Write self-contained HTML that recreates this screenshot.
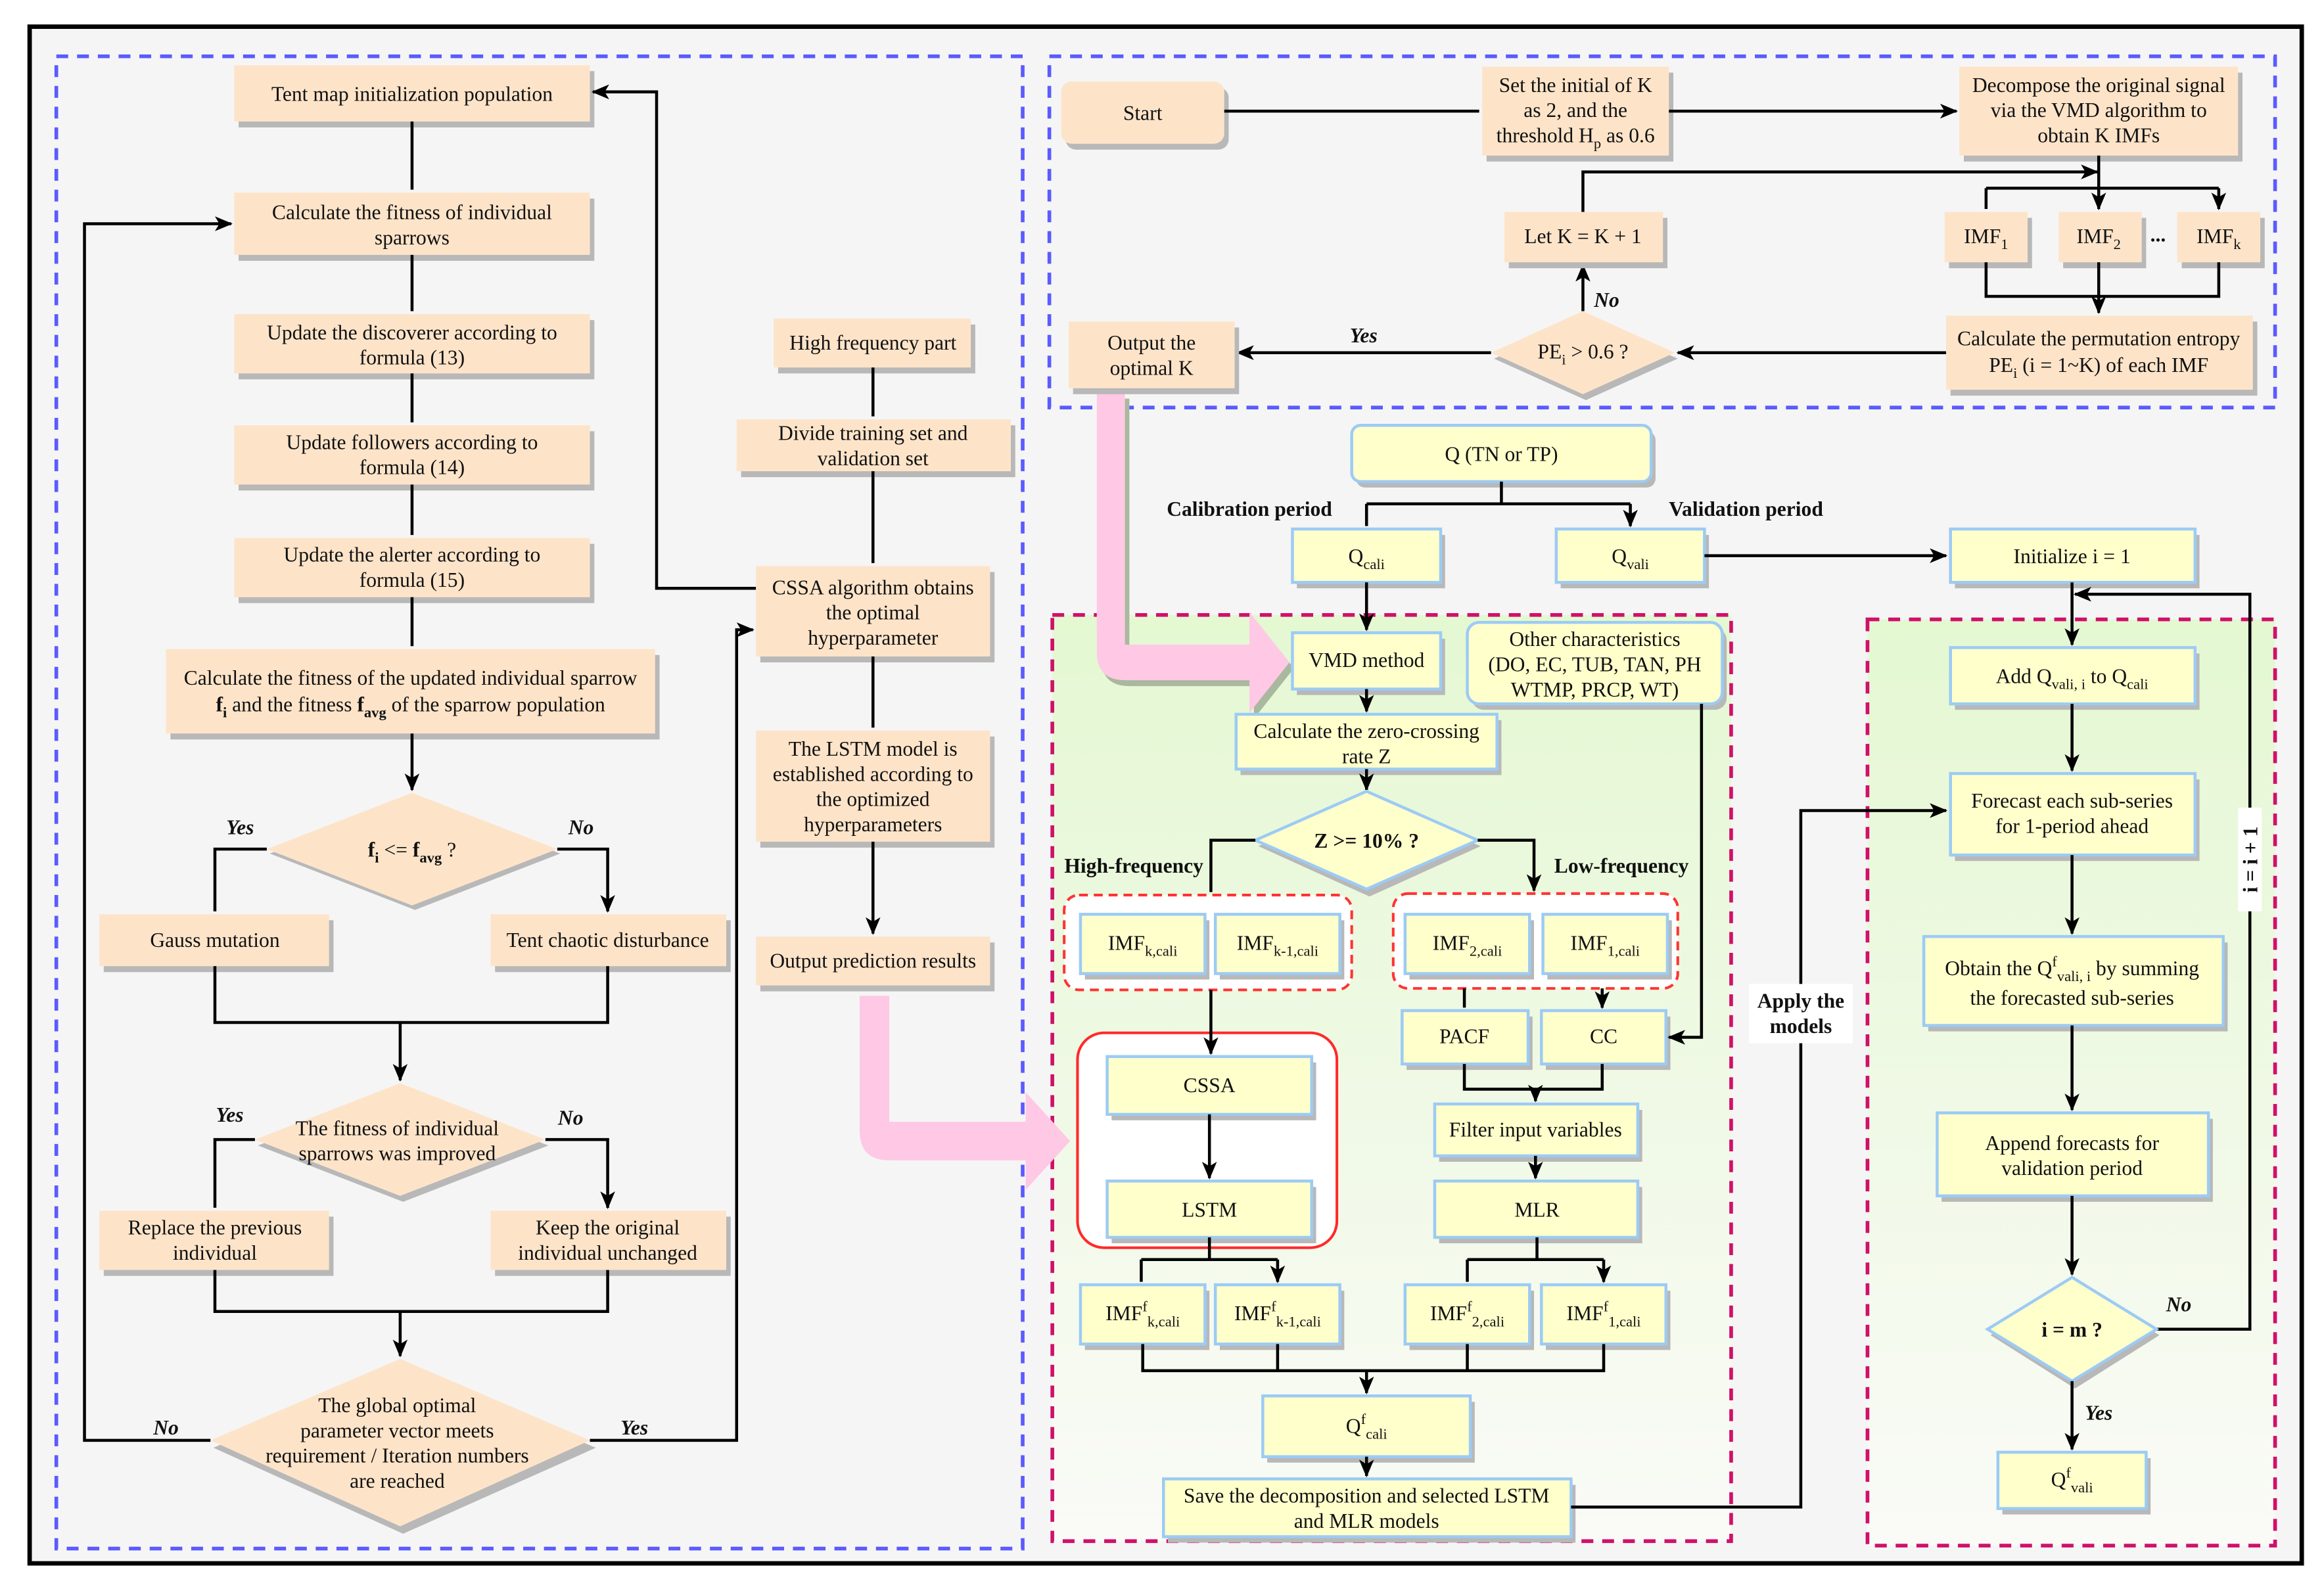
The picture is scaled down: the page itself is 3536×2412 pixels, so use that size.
<!DOCTYPE html>
<html><head><meta charset="utf-8"><style>
html,body{margin:0;padding:0;background:#fff;}
svg{display:block;}
text{font-family:"Liberation Serif",serif;font-size:14px;fill:#111;text-anchor:middle;}
.b{fill:#fde4c9;}
.y{fill:#ffffcc;stroke:#9ccbf4;stroke-width:2;}
.s{fill:#b8b8b8;}
.l{fill:none;stroke:#000;stroke-width:2;}
.bd{font-weight:bold;}
.it{font-style:italic;font-weight:bold;}
</style></head><body>
<svg width="3536" height="2412" viewBox="0 0 1568 1069.6" preserveAspectRatio="none" xmlns="http://www.w3.org/2000/svg">
<defs>
<marker id="a" markerUnits="userSpaceOnUse" markerWidth="12" markerHeight="10" refX="11" refY="5" orient="auto">
<path d="M0,0 L12,5 L0,10 L3,5 z" fill="#000"/></marker>
<linearGradient id="g" x1="0" y1="0" x2="0" y2="1"><stop offset="0" stop-color="#e4f8d2"/><stop offset="1" stop-color="#fafaf7"/></linearGradient>
</defs>
<rect x="0" y="0" width="1568" height="1070" fill="#fff"/>
<rect x="20" y="18" width="1533" height="1037" fill="#f5f5f5" stroke="#000" stroke-width="3"/>
<!-- region frames -->
<rect x="38" y="38" width="652" height="1007" fill="none" stroke="#5b5bff" stroke-width="2.5" stroke-dasharray="8,6"/>
<rect x="708" y="38" width="827" height="237" fill="none" stroke="#5b5bff" stroke-width="2.5" stroke-dasharray="8,6"/>
<rect x="710" y="415" width="458" height="625" fill="url(#g)" stroke="#d0106a" stroke-width="2.5" stroke-dasharray="8,6"/>
<rect x="1260" y="418" width="275" height="625" fill="url(#g)" stroke="#d0106a" stroke-width="2.5" stroke-dasharray="8,6"/>

<!-- pink arrows -->
<path d="M740,265 h19 v170 h84 v-22 l27,34 l-27,34 v-22 h-84 q-19,0 -19,-19 z" fill="#a9b89f" transform="translate(3,4)"/>
<path d="M740,265 h19 v170 h84 v-22 l27,34 l-27,34 v-22 h-84 q-19,0 -19,-19 z" fill="#ffc8e4"/>
<path d="M580,672 h20 v85 h92 v-20 l30,33 l-30,33 v-20 h-92 q-20,0 -20,-20 z" fill="#ffc8e4"/>

<!-- LEFT COLUMN -->
<g>
<rect class="s" x="161" y="48" width="240" height="38"/><rect class="b" x="158" y="44" width="240" height="38"/>
<text x="278" y="68">Tent map initialization population</text>
<rect class="s" x="161" y="134" width="240" height="42"/><rect class="b" x="158" y="130" width="240" height="42"/>
<text x="278" y="148">Calculate the fitness of individual</text><text x="278" y="165">sparrows</text>
<rect class="s" x="161" y="216" width="240" height="40"/><rect class="b" x="158" y="212" width="240" height="40"/>
<text x="278" y="229">Update the discoverer according to</text><text x="278" y="246">formula (13)</text>
<rect class="s" x="161" y="291" width="240" height="40"/><rect class="b" x="158" y="287" width="240" height="40"/>
<text x="278" y="303">Update followers according to</text><text x="278" y="320">formula (14)</text>
<rect class="s" x="161" y="367" width="240" height="40"/><rect class="b" x="158" y="363" width="240" height="40"/>
<text x="278" y="379">Update the alerter according to</text><text x="278" y="396">formula (15)</text>
<rect class="s" x="115" y="442" width="330" height="57"/><rect class="b" x="112" y="438" width="330" height="57"/>
<text x="277" y="462">Calculate the fitness of the updated individual sparrow</text>
<text x="277" y="480"><tspan class="bd">f</tspan><tspan class="bd" font-size="10" dy="4">i</tspan><tspan dy="-4"> and the fitness </tspan><tspan class="bd">f</tspan><tspan class="bd" font-size="10" dy="4">avg</tspan><tspan dy="-4"> of the sparrow population</tspan></text>
<path d="M278,82 V128 M278,172 V210 M278,252 V285 M278,327 V361 M278,403 V436 M278,495 V533" class="l" marker-end="url(#a)"/>
<polygon points="280,540 378,576 280,614 182,576" class="s"/>
<polygon points="278,535 376,573 278,611 180,573" class="b"/>
<text x="278" y="578"><tspan class="bd">f</tspan><tspan class="bd" font-size="10" dy="4">i</tspan><tspan dy="-4"> &lt;= </tspan><tspan class="bd">f</tspan><tspan class="bd" font-size="10" dy="4">avg</tspan><tspan dy="-4"> ?</tspan></text>
<text x="162" y="563" class="it">Yes</text><text x="392" y="563" class="it">No</text>
<path d="M180,573 H145 V615 M376,573 H410 V615" class="l" marker-end="url(#a)"/>
<rect class="s" x="70" y="621" width="155" height="35"/><rect class="b" x="67" y="617" width="155" height="35"/>
<text x="145" y="639">Gauss mutation</text>
<rect class="s" x="334" y="621" width="159" height="35"/><rect class="b" x="331" y="617" width="159" height="35"/>
<text x="410" y="639">Tent chaotic disturbance</text>
<path d="M145,652 V690 H410 V652" class="l"/>
<path d="M270,690 V729" class="l" marker-end="url(#a)"/>
<polygon points="272,736 370,773 272,811 174,773" class="s"/>
<polygon points="270,731 368,769 270,807 172,769" class="b"/>
<text x="268" y="766">The fitness of individual</text><text x="268" y="783">sparrows was improved</text>
<text x="155" y="757" class="it">Yes</text><text x="385" y="759" class="it">No</text>
<path d="M172,769 H145 V815 M368,769 H410 V815" class="l" marker-end="url(#a)"/>
<rect class="s" x="70" y="821" width="155" height="40"/><rect class="b" x="67" y="817" width="155" height="40"/>
<text x="145" y="833">Replace the previous</text><text x="145" y="850">individual</text>
<rect class="s" x="334" y="821" width="159" height="40"/><rect class="b" x="331" y="817" width="159" height="40"/>
<text x="410" y="833">Keep the original</text><text x="410" y="850">individual unchanged</text>
<path d="M145,857 V885 H410 V857" class="l"/>
<path d="M270,885 V915" class="l" marker-end="url(#a)"/>
<polygon points="272,922 402,977 272,1035 144,977" class="s"/>
<polygon points="270,917 398,972 270,1030 142,972" class="b"/>
<text x="268" y="953">The global optimal</text><text x="268" y="970">parameter vector meets</text>
<text x="268" y="987">requirement / Iteration numbers</text><text x="268" y="1004">are reached</text>
<text x="112" y="968" class="it">No</text><text x="428" y="968" class="it">Yes</text>
<path d="M142,972 H57 V151 H156" class="l" marker-end="url(#a)"/>
<path d="M398,972 H497 V425 H508" class="l" marker-end="url(#a)"/>
</g>

<!-- MIDDLE COLUMN -->
<g>
<rect class="s" x="525" y="219" width="133" height="33"/><rect class="b" x="522" y="215" width="133" height="33"/>
<text x="589" y="236">High frequency part</text>
<rect class="s" x="500" y="287" width="185" height="35"/><rect class="b" x="497" y="283" width="185" height="35"/>
<text x="589" y="297">Divide training set and</text><text x="589" y="314">validation set</text>
<rect class="s" x="513" y="386" width="158" height="61"/><rect class="b" x="510" y="382" width="158" height="61"/>
<text x="589" y="401">CSSA algorithm obtains</text><text x="589" y="418">the optimal</text><text x="589" y="435">hyperparameter</text>
<rect class="s" x="513" y="497" width="158" height="75"/><rect class="b" x="510" y="493" width="158" height="75"/>
<text x="589" y="510">The LSTM model is</text><text x="589" y="527">established according to</text><text x="589" y="544">the optimized</text><text x="589" y="561">hyperparameters</text>
<rect class="s" x="513" y="636" width="158" height="33"/><rect class="b" x="510" y="632" width="158" height="33"/>
<text x="589" y="653">Output prediction results</text>
<path d="M589,248 V281 M589,318 V380 M589,443 V491 M589,568 V630" class="l" marker-end="url(#a)"/>
<path d="M510,397 H443 V62 H400" class="l" marker-end="url(#a)"/>
</g>

<!-- TOP RIGHT -->
<g>
<rect class="s" x="719" y="59" width="110" height="42" rx="7"/><rect class="b" x="716" y="55" width="110" height="42" rx="7"/>
<text x="771" y="81">Start</text>
<rect class="s" x="1003" y="49" width="126" height="60"/><rect class="b" x="1000" y="45" width="126" height="60"/>
<text x="1063" y="62">Set the initial of K</text><text x="1063" y="79">as 2, and the</text>
<text x="1063" y="96">threshold H<tspan font-size="10" dy="4">p</tspan><tspan dy="-4"> as 0.6</tspan></text>
<rect class="s" x="1325" y="49" width="188" height="60"/><rect class="b" x="1322" y="45" width="188" height="60"/>
<text x="1416" y="62">Decompose the original signal</text><text x="1416" y="79">via the VMD algorithm to</text><text x="1416" y="96">obtain K IMFs</text>
<path d="M826,75 H998 M1126,75 H1320" class="l" marker-end="url(#a)"/>
<path d="M1068,143 V116 H1415" class="l" marker-end="url(#a)"/>
<path d="M1416,105 V141" class="l" marker-end="url(#a)"/>
<path d="M1340,127 H1497" class="l"/>
<path d="M1340,127 V141 M1497,127 V141" class="l" marker-end="url(#a)"/>
<rect class="s" x="1315" y="147" width="56" height="34"/><rect class="b" x="1312" y="143" width="56" height="34"/>
<text x="1340" y="164">IMF<tspan font-size="10" dy="4">1</tspan></text>
<rect class="s" x="1392" y="147" width="56" height="34"/><rect class="b" x="1389" y="143" width="56" height="34"/>
<text x="1416" y="164">IMF<tspan font-size="10" dy="4">2</tspan></text>
<text x="1456" y="163" class="bd">...</text>
<rect class="s" x="1472" y="147" width="56" height="34"/><rect class="b" x="1469" y="143" width="56" height="34"/>
<text x="1497" y="164">IMF<tspan font-size="10" dy="4">k</tspan></text>
<path d="M1340,177 V200 H1497 V177" class="l"/>
<path d="M1416,177 V211" class="l" marker-end="url(#a)"/>
<rect class="s" x="1316" y="217" width="207" height="50"/><rect class="b" x="1313" y="213" width="207" height="50"/>
<text x="1416" y="233">Calculate the permutation entropy</text>
<text x="1416" y="251">PE<tspan font-size="10" dy="4">i</tspan><tspan dy="-4"> (i = 1~K) of each IMF</tspan></text>
<path d="M1313,238 H1132" class="l" marker-end="url(#a)"/>
<polygon points="1070,215 1132,242 1070,270 1008,242" class="s"/>
<polygon points="1068,210 1130,238 1068,266 1006,238" class="b"/>
<text x="1068" y="242">PE<tspan font-size="10" dy="4">i</tspan><tspan dy="-4"> &gt; 0.6 ?</tspan></text>
<path d="M1068,210 V179" class="l" marker-end="url(#a)"/>
<text x="1084" y="207" class="it">No</text>
<rect class="s" x="1018" y="147" width="107" height="34"/><rect class="b" x="1015" y="143" width="107" height="34"/>
<text x="1068" y="164">Let K = K + 1</text>
<path d="M1006,238 H835" class="l" marker-end="url(#a)"/>
<text x="920" y="231" class="it">Yes</text>
<rect class="s" x="724" y="221" width="112" height="45"/><rect class="b" x="721" y="217" width="112" height="45"/>
<text x="777" y="236">Output the</text><text x="777" y="253">optimal K</text>
</g>

<!-- CALIBRATION PART -->
<g>
<rect class="s" x="915" y="291" width="202" height="38" rx="6"/><rect class="y" x="912" y="287" width="202" height="38" rx="6"/>
<text x="1013" y="311">Q (TN or TP)</text>
<path d="M1013,325 V340 M922,340 H1100" class="l"/>
<path d="M922,340 V355 M1100,340 V355" class="l" marker-end="url(#a)"/>
<text x="843" y="348" class="bd">Calibration period</text><text x="1178" y="348" class="bd">Validation period</text>
<rect class="s" x="875" y="361" width="100" height="36"/><rect class="y" x="872" y="357" width="100" height="36"/>
<text x="922" y="380">Q<tspan font-size="10" dy="4">cali</tspan></text>
<rect class="s" x="1053" y="361" width="100" height="36"/><rect class="y" x="1050" y="357" width="100" height="36"/>
<text x="1100" y="380">Q<tspan font-size="10" dy="4">vali</tspan></text>
<path d="M1150,375 H1313" class="l" marker-end="url(#a)"/>
<path d="M922,393 V425" class="l" marker-end="url(#a)"/>
<rect class="s" x="875" y="431" width="100" height="38"/><rect class="y" x="872" y="427" width="100" height="38"/>
<text x="922" y="450">VMD method</text>
<rect class="s" x="993" y="424" width="172" height="55" rx="8"/><rect class="y" x="990" y="420" width="172" height="55" rx="8"/>
<text x="1076" y="436">Other characteristics</text><text x="1076" y="453">(DO, EC, TUB, TAN, PH</text><text x="1076" y="470">WTMP, PRCP, WT)</text>
<path d="M922,465 V480" class="l" marker-end="url(#a)"/>
<rect class="s" x="837" y="486" width="176" height="37"/><rect class="y" x="834" y="482" width="176" height="37"/>
<text x="922" y="498">Calculate the zero-crossing</text><text x="922" y="515">rate Z</text>
<path d="M922,519 V533" class="l" marker-end="url(#a)"/>
<polygon points="924,539 999,571 924,605 849,571" class="s"/>
<polygon points="922,534 997,567 922,600 847,567" class="y"/>
<text x="922" y="572" class="bd">Z &gt;= 10% ?</text>
<path d="M847,567 H817 V602 M997,567 H1035 V601" class="l" marker-end="url(#a)"/>
<text x="765" y="589" class="bd">High-frequency</text><text x="1094" y="589" class="bd">Low-frequency</text>
<rect x="718" y="604" width="194" height="64" rx="10" fill="#fff" stroke="#ff3333" stroke-width="1.8" stroke-dasharray="6,4"/>
<rect x="940" y="603" width="192" height="64" rx="10" fill="#fff" stroke="#ff3333" stroke-width="1.8" stroke-dasharray="6,4"/>
<rect class="s" x="732" y="621" width="84" height="40"/><rect class="y" x="729" y="617" width="84" height="40"/>
<text x="771" y="641">IMF<tspan font-size="10" dy="4">k,cali</tspan></text>
<rect class="s" x="823" y="621" width="84" height="40"/><rect class="y" x="820" y="617" width="84" height="40"/>
<text x="862" y="641">IMF<tspan font-size="10" dy="4">k-1,cali</tspan></text>
<rect class="s" x="951" y="621" width="84" height="40"/><rect class="y" x="948" y="617" width="84" height="40"/>
<text x="990" y="641">IMF<tspan font-size="10" dy="4">2,cali</tspan></text>
<rect class="s" x="1044" y="621" width="84" height="40"/><rect class="y" x="1041" y="617" width="84" height="40"/>
<text x="1083" y="641">IMF<tspan font-size="10" dy="4">1,cali</tspan></text>
<path d="M988,667 V680 M1081,667 V680" class="l" marker-end="url(#a)"/>
<rect class="s" x="949" y="686" width="85" height="36"/><rect class="y" x="946" y="682" width="85" height="36"/>
<text x="988" y="704">PACF</text>
<rect class="s" x="1043" y="686" width="84" height="36"/><rect class="y" x="1040" y="682" width="84" height="36"/>
<text x="1082" y="704">CC</text>
<path d="M1148,475 V700 H1126" class="l" marker-end="url(#a)"/>
<path d="M988,718 V735 H1081 V718" class="l"/>
<path d="M1036,735 V743" class="l" marker-end="url(#a)"/>
<rect class="s" x="971" y="749" width="137" height="35"/><rect class="y" x="968" y="745" width="137" height="35"/>
<text x="1036" y="767">Filter input variables</text>
<path d="M1036,780 V795" class="l" marker-end="url(#a)"/>
<rect class="s" x="971" y="801" width="137" height="38"/><rect class="y" x="968" y="797" width="137" height="38"/>
<text x="1037" y="821">MLR</text>
<path d="M1037,835 V850 M990,850 H1082" class="l"/>
<path d="M990,850 V865 M1082,850 V865" class="l" marker-end="url(#a)"/>
<rect x="727" y="697" width="175" height="145" rx="18" fill="#fff" stroke="#ff2a2a" stroke-width="1.8"/>
<path d="M817,668 V711" class="l" marker-end="url(#a)"/>
<rect class="s" x="750" y="717" width="138" height="39"/><rect class="y" x="747" y="713" width="138" height="39"/>
<text x="816" y="737">CSSA</text>
<path d="M816,752 V795" class="l" marker-end="url(#a)"/>
<rect class="s" x="750" y="801" width="138" height="38"/><rect class="y" x="747" y="797" width="138" height="38"/>
<text x="816" y="821">LSTM</text>
<path d="M816,835 V850 M770,850 H862" class="l"/>
<path d="M770,850 V865 M862,850 V865" class="l" marker-end="url(#a)"/>
<rect class="s" x="732" y="871" width="84" height="40"/><rect class="y" x="729" y="867" width="84" height="40"/>
<text x="771" y="891">IMF<tspan font-size="10" dy="-6">f</tspan><tspan font-size="10" dy="10">k,cali</tspan></text>
<rect class="s" x="823" y="871" width="84" height="40"/><rect class="y" x="820" y="867" width="84" height="40"/>
<text x="862" y="891">IMF<tspan font-size="10" dy="-6">f</tspan><tspan font-size="10" dy="10">k-1,cali</tspan></text>
<rect class="s" x="951" y="871" width="84" height="40"/><rect class="y" x="948" y="867" width="84" height="40"/>
<text x="990" y="891">IMF<tspan font-size="10" dy="-6">f</tspan><tspan font-size="10" dy="10">2,cali</tspan></text>
<rect class="s" x="1043" y="871" width="84" height="40"/><rect class="y" x="1040" y="867" width="84" height="40"/>
<text x="1082" y="891">IMF<tspan font-size="10" dy="-6">f</tspan><tspan font-size="10" dy="10">1,cali</tspan></text>
<path d="M771,907 V925 H1082 V907 M862,907 V925 M990,907 V925" class="l"/>
<path d="M922,925 V940" class="l" marker-end="url(#a)"/>
<rect class="s" x="855" y="946" width="140" height="41"/><rect class="y" x="852" y="942" width="140" height="41"/>
<text x="922" y="967">Q<tspan font-size="10" dy="-6">f</tspan><tspan font-size="10" dy="10">cali</tspan></text>
<path d="M922,983 V996" class="l" marker-end="url(#a)"/>
<rect class="s" x="788" y="1002" width="275" height="39"/><rect class="y" x="785" y="998" width="275" height="39"/>
<text x="922" y="1014">Save the decomposition and selected LSTM</text><text x="922" y="1031">and MLR models</text>
<path d="M1060,1017 H1215 V547 H1313" class="l" marker-end="url(#a)"/>
<rect x="1180" y="664" width="70" height="40" fill="#fff"/>
<text x="1215" y="680" class="bd">Apply the</text><text x="1215" y="697" class="bd">models</text>
</g>

<!-- VALIDATION RIGHT -->
<g>
<rect class="s" x="1319" y="361" width="165" height="36"/><rect class="y" x="1316" y="357" width="165" height="36"/>
<text x="1398" y="380">Initialize i = 1</text>
<path d="M1398,393 V435" class="l" marker-end="url(#a)"/>
<path d="M1455,897 H1518 V401 H1400" class="l" marker-end="url(#a)"/>
<rect x="1510" y="545" width="16" height="70" fill="#fff"/>
<text x="1518" y="580" class="bd" transform="rotate(-90 1518 580)" dy="5">i = i + 1</text>
<rect class="s" x="1319" y="441" width="165" height="38"/><rect class="y" x="1316" y="437" width="165" height="38"/>
<text x="1398" y="461">Add Q<tspan font-size="10" dy="4">vali, i</tspan><tspan dy="-4"> to Q</tspan><tspan font-size="10" dy="4">cali</tspan></text>
<path d="M1398,475 V520" class="l" marker-end="url(#a)"/>
<rect class="s" x="1319" y="526" width="165" height="55"/><rect class="y" x="1316" y="522" width="165" height="55"/>
<text x="1398" y="545">Forecast each sub-series</text><text x="1398" y="562">for 1-period ahead</text>
<path d="M1398,577 V630" class="l" marker-end="url(#a)"/>
<rect class="s" x="1301" y="636" width="202" height="60"/><rect class="y" x="1298" y="632" width="202" height="60"/>
<text x="1398" y="658">Obtain the Q<tspan font-size="10" dy="-6">f</tspan><tspan font-size="10" dy="10">vali, i</tspan><tspan dy="-4"> by summing</tspan></text>
<text x="1398" y="678">the forecasted sub-series</text>
<path d="M1398,692 V749" class="l" marker-end="url(#a)"/>
<rect class="s" x="1310" y="755" width="183" height="56"/><rect class="y" x="1307" y="751" width="183" height="56"/>
<text x="1398" y="776">Append forecasts for</text><text x="1398" y="793">validation period</text>
<path d="M1398,807 V860" class="l" marker-end="url(#a)"/>
<polygon points="1400,867 1457,901 1400,937 1343,901" class="s"/>
<polygon points="1398,862 1455,897 1398,932 1341,897" class="y"/>
<text x="1398" y="902" class="bd">i = m ?</text>
<text x="1470" y="885" class="it">No</text>
<path d="M1398,932 V978" class="l" marker-end="url(#a)"/>
<text x="1416" y="958" class="it">Yes</text>
<rect class="s" x="1351" y="984" width="100" height="38"/><rect class="y" x="1348" y="980" width="100" height="38"/>
<text x="1398" y="1003">Q<tspan font-size="10" dy="-6">f</tspan><tspan font-size="10" dy="10">vali</tspan></text>
</g>
</svg>
</body></html>
